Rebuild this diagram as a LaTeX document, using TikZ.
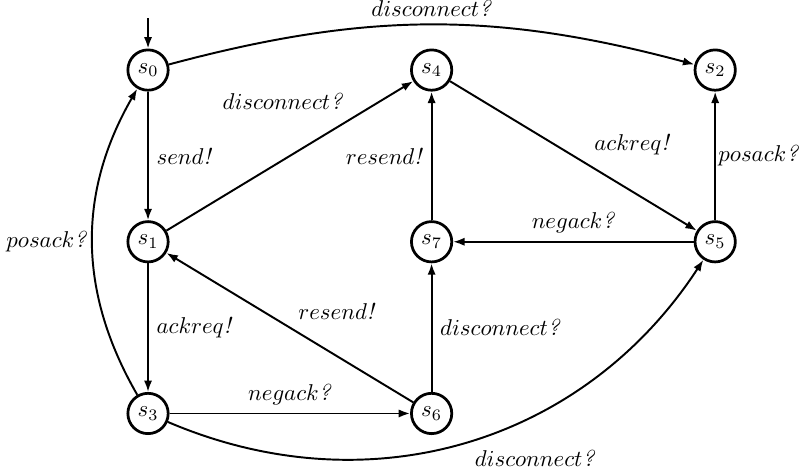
\documentclass[tikz,border=0pt]{standalone}
\usetikzlibrary{positioning,arrows.meta}

% action label: math-italic name with an italic ! or ?
\newcommand{\act}[2]{$#1$\textit{#2}}

\begin{document}
\begin{tikzpicture}[
  node distance=2.64cm and 4.36cm, on grid,
  st/.style   ={circle, draw=black, line width=1.2pt, minimum size=6.2mm, inner sep=0pt},
  arrow/.style={-{Latex[length=5pt,width=3.6pt]}, line width=0.85pt},
]
\useasboundingbox (-2.276,-6.23) rectangle (10.07,1.077);

% States, three columns
\node[st]                  (s0) {$s_0$};
\node[st, below=of s0]     (s1) {$s_1$};
\node[st, below=of s1]     (s3) {$s_3$};
\node[st, right=of s0]     (s4) {$s_4$};
\node[st, below=of s4]     (s7) {$s_7$};
\node[st, below=of s7]     (s6) {$s_6$};
\node[st, right=of s4]     (s2) {$s_2$};
\node[st, below=of s2]     (s5) {$s_5$};

% initial state marker
\coordinate[above=8mm of s0] (init);
\draw[arrow] (init) -- (s0);

% Transitions
\draw[arrow] (s0) to[bend left=15] node[above] {\act{disconnect}{?}} (s2);
\draw[arrow] (s0) -- node[right] {\act{send}{!}} (s1);
\draw[arrow] (s1) -- node[pos=0.75, above left] {\act{disconnect}{?}} (s4);
\draw[arrow] (s1) -- node[right] {\act{ackreq}{!}} (s3);
\draw[arrow] (s3) to[bend left=30] node[left, inner sep=2pt] {\act{posack}{?}} (s0);
\draw[arrow] (s3) -- node[above] {\act{negack}{?}} (s6);
\draw[arrow] (s3) to[bend right=40] node[below right] {\act{disconnect}{?}} (s5);
\draw[arrow] (s6) -- node[above right] {\act{resend}{!}} (s1);
\draw[arrow] (s6) -- node[right] {\act{disconnect}{?}} (s7);
\draw[arrow] (s7) -- node[left] {\act{resend}{!}} (s4);
\draw[arrow] (s4) -- node[pos=0.55, above right] {\act{ackreq}{!}} (s5);
\draw[arrow] (s5) -- node[above] {\act{negack}{?}} (s7);
\draw[arrow] (s5) -- node[right, inner sep=1pt] {\act{posack}{?}} (s2);

\end{tikzpicture}
\end{document}
